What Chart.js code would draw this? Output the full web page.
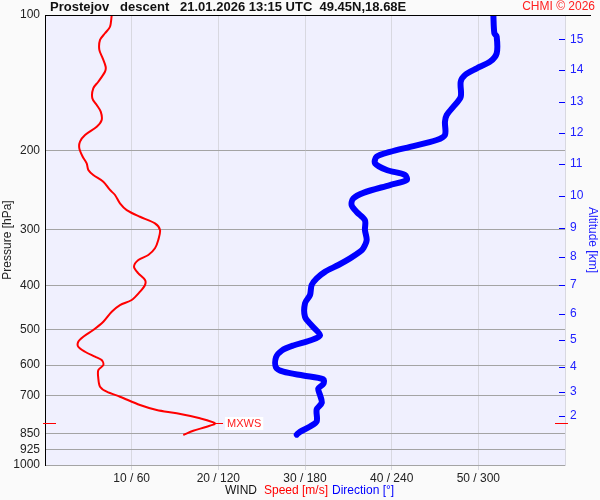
<!DOCTYPE html>
<html lang="en">
<head>
<meta charset="UTF-8">
<title>Prostejov descent</title>
<script src="https://cdn.jsdelivr.net/npm/chart.js"></script>
<style>
    body { margin: 0; background: #fafafa; }
    #wrap { width: 600px; height: 500px; }
</style>
</head>
<body>
<div id="wrap"><canvas id="sounding" width="600" height="500"></canvas></div>
<script>
// wind speed profile [m/s] vs pressure [hPa]
const speedPres = [100, 106.2, 109.8, 113.6, 119.6, 124.8, 130.3, 133.7, 140.7, 145.5, 153.1, 158.5, 164.0, 171.1, 177.1, 184.8, 191.2, 197.8, 206.5, 213.6, 221.0, 226.7, 234.6, 244.8, 251.2, 262.1, 271.3, 280.8, 290.4, 300.5, 316.2, 329.9, 341.5, 350.4, 362.6, 375.0, 388.1, 398.1, 412.0, 429.9, 441.1, 456.5, 480.4, 501.2, 518.6, 532.1, 546.0, 560.2, 574.6, 584.5, 599.6, 615.2, 641.8, 669.9, 687.3, 705.1, 735.6, 754.6, 767.6, 787.4, 808.0, 822.2, 839.1, 857.7];
const speedVals = [7.70, 7.50, 6.92, 6.35, 6.27, 6.66, 7.00, 6.92, 6.15, 5.57, 5.46, 5.97, 6.43, 6.54, 5.97, 4.62, 4.04, 3.96, 4.35, 4.81, 5.00, 5.57, 6.73, 7.50, 8.08, 8.65, 9.43, 10.96, 12.69, 13.27, 13.07, 12.69, 11.92, 10.77, 10.27, 10.77, 11.54, 11.54, 10.96, 10.00, 8.65, 7.70, 6.73, 5.57, 4.42, 3.84, 3.84, 4.62, 5.77, 6.54, 6.73, 6.15, 6.15, 6.35, 7.12, 8.65, 10.96, 12.89, 15.20, 17.88, 19.62, 18.66, 17.11, 15.96];

// wind direction profile [deg] vs pressure [hPa]
const dirPres = [100, 109.8, 111.7, 121.7, 127.0, 131.4, 135.9, 140.7, 152.0, 159.9, 166.8, 172.7, 184.8, 189.6, 196.3, 201.5, 206.5, 213.6, 221.0, 226.7, 232.6, 238.7, 248.4, 255.7, 264.6, 273.9, 285.8, 300.5, 316.2, 329.9, 335.7, 347.4, 359.4, 372.2, 384.8, 398.1, 418.7, 437.2, 468.7, 489.5, 515.4, 528.8, 542.6, 556.9, 576.6, 606.9, 620.5, 632.5, 644.5, 660.2, 676.5, 699.1, 727.3, 752.4, 800.0, 821.4, 843.9, 856.2];
const dirVals = [310.4, 311.1, 312.7, 312.7, 308.1, 298.9, 290.8, 287.8, 287.8, 282.7, 278.1, 276.9, 276.9, 271.2, 252.7, 238.8, 229.6, 228.5, 236.6, 249.2, 250.4, 238.8, 220.4, 213.4, 212.3, 215.8, 221.5, 221.5, 222.7, 220.4, 218.1, 211.2, 203.1, 193.8, 188.1, 184.6, 183.5, 180.0, 180.0, 184.6, 190.4, 183.5, 171.9, 163.9, 159.9, 159.9, 165.0, 178.8, 192.7, 192.7, 189.2, 190.4, 191.6, 188.1, 188.1, 183.5, 176.5, 174.3];

// axes
const pressTicks = [100, 200, 300, 400, 500, 600, 700, 850, 925, 1000];
const windTicks = [10, 20, 30, 40, 50];
const altKm = [2, 3, 4, 5, 6, 7, 8, 9, 10, 11, 12, 13, 14, 15];
const altPres = [778.4, 688.2, 604.6, 527.6, 461.7, 398.1, 344.4, 297.4, 252.5, 214.3, 182.6, 156.1, 132.5, 113.2];

const FONT = "'Liberation Sans', Arial, sans-serif";
Chart.defaults.font.family = FONT;
Chart.defaults.font.size = 12;

const decor = {
    id: 'decor',
    beforeDraw(chart) {
        const { ctx, chartArea: a } = chart;
        ctx.save();
        ctx.fillStyle = '#fafafa';
        ctx.fillRect(0, 0, chart.width, chart.height);
        ctx.fillStyle = '#f0f0fe';
        ctx.fillRect(a.left, a.top, a.right - a.left, a.bottom - a.top);
        ctx.restore();
    },
    afterDraw(chart) {
        const { ctx, chartArea: a, scales } = chart;
        ctx.save();

        // top line
        ctx.strokeStyle = '#000';
        ctx.lineWidth = 1;
        ctx.beginPath();
        ctx.moveTo(a.left, a.top + 0.5);
        ctx.lineTo(591, a.top + 0.5);
        ctx.stroke();

        // title
        ctx.textBaseline = 'middle';
        ctx.fillStyle = '#111';
        ctx.font = 'bold 13px ' + FONT;
        ctx.textAlign = 'left';
        ctx.fillText('Prostejov   descent   21.01.2026 13:15 UTC  49.45N,18.68E', 50, 7);
        ctx.fillStyle = '#ff2020';
        ctx.font = '12px ' + FONT;
        ctx.textAlign = 'right';
        ctx.fillText('CHMI \u00a9 2026', 595, 7);

        // bottom legend
        ctx.textAlign = 'left';
        ctx.fillStyle = '#111';
        ctx.fillText('WIND', 225, 491);
        ctx.fillStyle = '#ff0000';
        ctx.fillText('Speed [m/s]', 264, 491);
        ctx.fillStyle = '#0000ff';
        ctx.fillText('Direction [\u00b0]', 332, 491);

        // altitude tick marks
        ctx.strokeStyle = '#0000ff';
        altPres.forEach(p => {
            const y = Math.round(scales.y1.getPixelForValue(p)) + 0.5;
            ctx.beginPath();
            ctx.moveTo(a.right - 6, y);
            ctx.lineTo(a.right, y);
            ctx.stroke();
        });

        // max wind
        let im = 0;
        speedVals.forEach((v, i) => { if (v > speedVals[im]) im = i; });
        const px = scales.x.getPixelForValue(speedVals[im]);
        const py = Math.round(scales.y.getPixelForValue(speedPres[im])) + 0.5;
        ctx.strokeStyle = '#ff0000';
        ctx.beginPath();
        ctx.moveTo(a.left - 2, py); ctx.lineTo(a.left + 11, py);
        ctx.moveTo(a.right - 10, py); ctx.lineTo(a.right + 3, py);
        ctx.moveTo(px, py); ctx.lineTo(px + 8, py);
        ctx.stroke();
        ctx.font = '11px ' + FONT;
        const w = ctx.measureText('MXWS').width;
        ctx.fillStyle = '#ffffff';
        ctx.fillRect(px + 10, py - 6.5, w + 4, 13);
        ctx.fillStyle = '#ff2020';
        ctx.fillText('MXWS', px + 12, py);

        ctx.restore();
    }
};

new Chart(document.getElementById('sounding'), {
    type: 'scatter',
    data: {
        datasets: [{
            label: 'Direction',
            data: dirPres.map((p, i) => ({ x: dirVals[i], y: p })),
            xAxisID: 'xDir',
            yAxisID: 'y',
            showLine: true,
            borderColor: '#0000ff',
            borderWidth: 6,
            borderCapStyle: 'round',
            borderJoinStyle: 'round',
            pointRadius: 0,
            tension: 0.3
        }, {
            label: 'Speed',
            data: speedPres.map((p, i) => ({ x: speedVals[i], y: p })),
            xAxisID: 'x',
            yAxisID: 'y',
            showLine: true,
            borderColor: '#ff0000',
            borderWidth: 2,
            pointRadius: 0,
            tension: 0.3
        }]
    },
    options: {
        responsive: false,
        animation: false,
        layout: { padding: { top: 15 } },
        plugins: { legend: { display: false }, tooltip: { enabled: false } },
        scales: {
            x: {
                type: 'linear', min: 0, max: 60, position: 'bottom',
                afterBuildTicks: s => { s.ticks = windTicks.map(v => ({ value: v })); },
                afterFit: s => { s.height = 35; },
                ticks: { color: '#222', padding: 1, maxRotation: 0, callback: v => v + ' / ' + v * 6 },
                grid: { color: '#d8d8e0', tickLength: 5 },
                border: { display: false }
            },
            xDir: { type: 'linear', min: 0, max: 360, display: false },
            y: {
                type: 'logarithmic', reverse: true, min: 100, max: 1000, position: 'left',
                afterBuildTicks: s => { s.ticks = pressTicks.map(v => ({ value: v })); },
                afterFit: s => { s.width = 45; },
                ticks: { color: '#222', padding: 5, callback: v => String(v) },
                grid: { color: c => c.tick && c.tick.value === 100 ? 'rgba(0,0,0,0)' : '#a4a4a4', drawTicks: false },
                border: { color: '#000', width: 1 },
                title: { display: true, text: 'Pressure [hPa]', color: '#222', padding: 0 }
            },
            y1: {
                type: 'logarithmic', reverse: true, min: 100, max: 1000, position: 'right',
                afterBuildTicks: s => { s.ticks = altPres.map(v => ({ value: v })); },
                afterFit: s => { s.width = 35; },
                ticks: { color: '#2020ff', padding: 5, callback: (v, i) => String(altKm[i]) },
                grid: { drawOnChartArea: false, drawTicks: false },
                border: { color: '#d8d8e0' },
                title: { display: true, text: 'Altitude [km]', color: '#2020ff', padding: 0 }
            }
        }
    },
    plugins: [decor]
});
</script>
</body>
</html>
